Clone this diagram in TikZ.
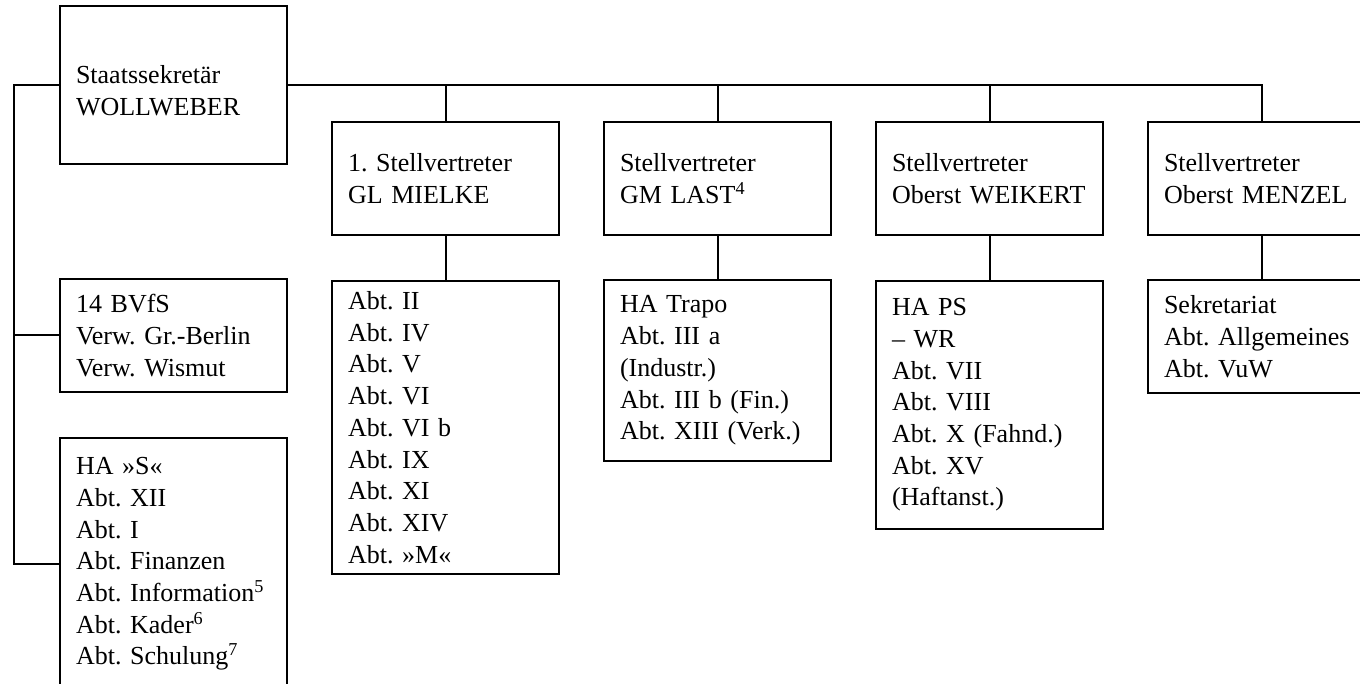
\documentclass[tikz,border=0pt]{standalone}
\usepackage{fontspec}
\setmainfont{Liberation Serif}
\frenchspacing
\begin{document}
\begin{tikzpicture}[x=1pt,y=-1pt,
  box/.style={draw,line width=2pt,rectangle,inner xsep=16pt,inner ysep=0pt,
    text width=195pt,align=left,font=\fontsize{26}{31.7}\selectfont\frenchspacing},
  conn/.style={line width=2pt}]
\useasboundingbox (0,0) rectangle (1360,684);
\node[box,minimum height=158pt] (W) at (173.5,85) {\rule{0pt}{29pt}Staatssekretär\\WOLLWEBER};
\node[box,minimum height=113pt] (BV) at (173.5,335.5) {14 BVfS\\Verw. Gr.-Berlin\\Verw. Wismut};
\node[box,minimum height=252pt] (HS) at (173.5,564) {HA »S«\\Abt. XII\\Abt. I\\Abt. Finanzen\\Abt. Information\textsuperscript{5}\\Abt. Kader\textsuperscript{6}\\Abt. Schulung\textsuperscript{7}};
\node[box,minimum height=113pt] (M1) at (445.5,178.5) {1. Stellvertreter\\GL MIELKE};
\node[box,minimum height=293pt] (M2) at (445.5,427.5) {Abt. II\\Abt. IV\\Abt. V\\Abt. VI\\Abt. VI b\\Abt. IX\\Abt. XI\\Abt. XIV\\Abt. »M«};
\node[box,minimum height=113pt] (L1) at (717.5,178.5) {Stellvertreter\\GM LAST\textsuperscript{4}};
\node[box,minimum height=181pt] (L2) at (717.5,370.5) {HA Trapo\\Abt. III a\\(Industr.)\\Abt. III b (Fin.)\\Abt. XIII (Verk.)};
\node[box,minimum height=113pt] (K1) at (989.5,178.5) {Stellvertreter\\Oberst WEIKERT};
\node[box,minimum height=248pt] (K2) at (989.5,405) {HA PS\\– WR\\Abt. VII\\Abt. VIII\\Abt. X (Fahnd.)\\Abt. XV\\(Haftanst.)};
\node[box,minimum height=113pt] (Z1) at (1261.5,178.5) {Stellvertreter\\Oberst MENZEL};
\node[box,minimum height=113pt] (Z2) at (1261.5,336.5) {Sekretariat\\Abt. Allgemeines\\Abt. VuW};
\coordinate (lft) at (14,85);
\draw[conn] (W.east) -- (Z1.north |- W.east) -- (Z1.north);
\draw[conn] (M1.north |- W.east) -- (M1.north);
\draw[conn] (L1.north |- W.east) -- (L1.north);
\draw[conn] (K1.north |- W.east) -- (K1.north);
\draw[conn] (M1.south) -- (M2.north);
\draw[conn] (L1.south) -- (L2.north);
\draw[conn] (K1.south) -- (K2.north);
\draw[conn] (Z1.south) -- (Z2.north);
\draw[conn] (W.west) -- (lft) |- (HS.west);
\draw[conn] (BV.west) -- (BV.west -| lft);
\end{tikzpicture}
\end{document}
